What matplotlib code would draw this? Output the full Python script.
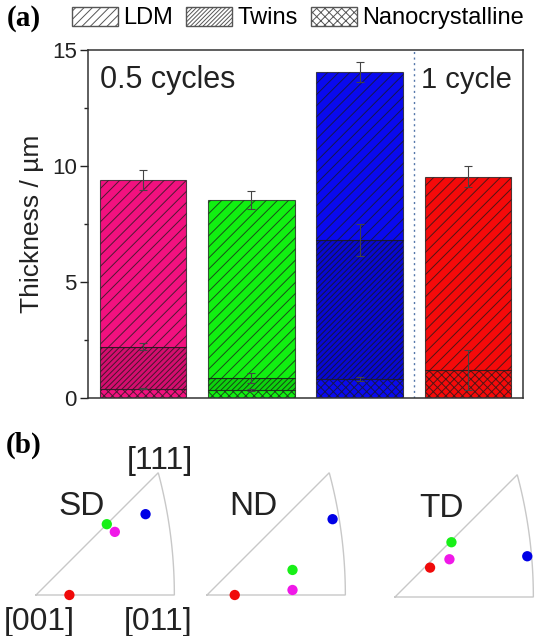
import numpy as np
import matplotlib
matplotlib.use("Agg")
import matplotlib.pyplot as plt
from matplotlib.patches import Patch

plt.rcParams['font.family'] = ['Liberation Sans', 'DejaVu Sans']
plt.rcParams['hatch.linewidth'] = 0.7

# ---------------- data (panel a) ----------------
samples = ['S1', 'S2', 'S3', 'S4']
bar_colors = ['#F2117F', '#11F011', '#0A0AEE', '#F50A0A']
nano_top = [0.40, 0.35, 0.82, 1.20]
twins_top = [2.20, 0.86, 6.80, 1.20]
total_top = [9.40, 8.53, 14.05, 9.53]
nano_err = [0.03, 0.04, 0.10, 0.87]
twins_err = [0.15, 0.20, 0.70, 0.0]
total_err = [0.43, 0.40, 0.43, 0.45]
legend_labels = ['LDM', 'Twins', 'Nanocrystalline']
yticks = [0, 5, 10, 15]

# ---------------- data (panel b) : stereographic IPF coords ----------------
dot_colors = ['#F018E8', '#18F018', '#0000E6', '#F00A0A']  # magenta, green, blue, red
sd_x = [0.236, 0.212, 0.328, 0.100]
sd_y = [0.189, 0.212, 0.242, 0.000]
nd_x = [0.256, 0.256, 0.376, 0.083]
nd_y = [0.015, 0.075, 0.227, 0.000]
td_x = [0.163, 0.169, 0.396, 0.105]
td_y = [0.113, 0.164, 0.122, 0.088]
ipf_names = ['SD', 'ND', 'TD']

W, H = 540, 636
fig = plt.figure(figsize=(W / 100, H / 100), dpi=100)

# ---------------- panel a ----------------
ax = fig.add_axes([88 / W, 1 - 398 / H, 435 / W, 348 / H])
x = np.arange(1, len(samples) + 1)
width = 0.8
edge = (0.1, 0.1, 0.1, 0.75)
for i in range(len(samples)):
    ax.bar(x[i], nano_top[i], width, color=bar_colors[i], edgecolor=edge,
           hatch='xxxx', linewidth=0.8)
    tw = twins_top[i] - nano_top[i]
    if tw > 0:
        ax.bar(x[i], tw, width, bottom=nano_top[i], color=bar_colors[i],
               edgecolor=edge, hatch='//////', linewidth=0.8)
    ax.bar(x[i], total_top[i] - twins_top[i], width, bottom=twins_top[i],
           color=bar_colors[i], edgecolor=edge, hatch='///', linewidth=0.8)
    if tw > 0:
        ax.bar(x[i], tw, width, bottom=nano_top[i], color=(0, 0, 0, 0.12),
               edgecolor='none', linewidth=0)

ekw = dict(fmt='none', ecolor='#444444', elinewidth=0.8, capsize=3, capthick=0.8)
ax.errorbar(x, total_top, yerr=total_err, **ekw)
mask = np.array(twins_err) > 0
ax.errorbar(x[mask], np.array(twins_top)[mask], yerr=np.array(twins_err)[mask], **ekw)
ax.errorbar(x, nano_top, yerr=nano_err, **ekw)

ax.axvline(3.5, color='#5577AA', linestyle=(0, (1.5, 2.5)), linewidth=1.0)

ax.set_xlim(0.49, 4.51)
ax.set_ylim(0, 15)
ax.set_yticks(yticks)
ax.set_yticks([2.5, 7.5, 12.5], minor=True)
ax.set_xticks([])
ax.tick_params(axis='y', which='major', direction='out', length=6, width=1,
               labelsize=16, pad=2, colors='#222222')
ax.tick_params(axis='y', which='minor', direction='out', length=3, width=1,
               colors='#222222')
for sp in ax.spines.values():
    sp.set_color('#333333')
    sp.set_linewidth(1.1)
ax.set_ylabel('Thickness / µm', fontsize=19, color='#222222', labelpad=6)

ax.text(0.6, 13.7, '0.5 cycles', fontsize=22, color='#222222', ha='left', va='center')
ax.text(3.57, 13.7, '1 cycle', fontsize=21, color='#222222', ha='left', va='center')

handles = [Patch(facecolor='white', edgecolor='#555555', hatch='////', label=legend_labels[0]),
           Patch(facecolor='white', edgecolor='#555555', hatch='////////', label=legend_labels[1]),
           Patch(facecolor='white', edgecolor='#555555', hatch='xxxx', label=legend_labels[2])]
fig.legend(handles=handles, loc='center left', bbox_to_anchor=(72 / W, 1 - 18 / H),
           ncol=3, frameon=False, fontsize=17, handlelength=1.95, handleheight=0.85,
           handletextpad=0.22, columnspacing=0.55, borderaxespad=0, borderpad=0)

fig.text(7 / W, 1 - 19 / H, '(a)', fontsize=21, fontweight='bold',
         family='Liberation Serif', ha='left', va='center')
fig.text(6 / W, 1 - 445 / H, '(b)', fontsize=21, fontweight='bold',
         family='Liberation Serif', ha='left', va='center')

# ---------------- panel b ----------------
scale = 334.0
origins = [(36, 595), (207, 595), (395, 597)]
all_x = [sd_x, nd_x, td_x]
all_y = [sd_y, nd_y, td_y]
t = np.linspace(0, 1, 100)
arc_x = 1 / (np.sqrt(2 + t ** 2) + 1)
arc_y = t / (np.sqrt(2 + t ** 2) + 1)
tri_x = np.concatenate([[0.0], arc_x, [0.0]])
tri_y = np.concatenate([[0.0], arc_y, [0.0]])
x0, x1, y0, y1 = -0.05, 0.47, -0.05, 0.42
for k, (ox, oy) in enumerate(origins):
    bx = fig.add_axes([(ox + x0 * scale) / W, 1 - (oy - y0 * scale) / H,
                       (x1 - x0) * scale / W, (y1 - y0) * scale / H])
    bx.plot(tri_x, tri_y, color='#C8C8C8', linewidth=1.0, solid_joinstyle='miter')
    bx.scatter(all_x[k], all_y[k], s=55, c=dot_colors, edgecolors='none', zorder=3)
    bx.set_xlim(x0, x1)
    bx.set_ylim(y0, y1)
    bx.axis('off')
    bx.text(0.138, 0.266, ipf_names[k], fontsize=24, color='#222222', ha='center', va='center')

fig.text(160 / W, 1 - 461 / H, '[111]', fontsize=23, color='#222222', ha='center', va='center')
fig.text(39 / W, 1 - 622 / H, '[001]', fontsize=23, color='#222222', ha='center', va='center')
fig.text(158 / W, 1 - 622 / H, '[011]', fontsize=23, color='#222222', ha='center', va='center')

fig.savefig('out.png', dpi=100)
